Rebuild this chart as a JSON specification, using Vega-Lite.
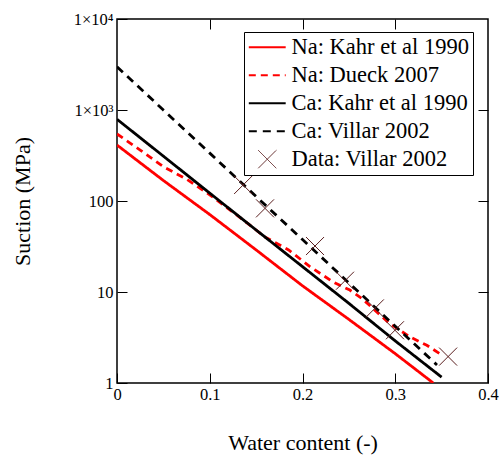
{
  "$schema": "https://vega.github.io/schema/vega-lite/v6.json",
  "width": 371,
  "height": 364,
  "autosize": {"type": "none"},
  "padding": {"left": 117, "top": 19, "right": 14, "bottom": 73},
  "background": "white",
  "config": {
    "font": "Liberation Serif",
    "view": {"stroke": "black", "strokeWidth": 1.5},
    "axis": {
      "grid": false,
      "domain": false,
      "ticks": true,
      "tickColor": "black",
      "tickWidth": 1,
      "tickSize": -10,
      "labelFlush": false,
      "labelOverlap": false,
      "titleFontWeight": "normal",
      "titleColor": "black"
    }
  },
  "datasets": {
    "curves": [
      {"series": "Na: Kahr et al 1990", "w": 0.0, "s": 412},
      {"series": "Na: Kahr et al 1990", "w": 0.05, "s": 168},
      {"series": "Na: Kahr et al 1990", "w": 0.1, "s": 71},
      {"series": "Na: Kahr et al 1990", "w": 0.15, "s": 29},
      {"series": "Na: Kahr et al 1990", "w": 0.2, "s": 11.7},
      {"series": "Na: Kahr et al 1990", "w": 0.25, "s": 5.0},
      {"series": "Na: Kahr et al 1990", "w": 0.3, "s": 2.1},
      {"series": "Na: Kahr et al 1990", "w": 0.341, "s": 1.0},
      {"series": "Na: Dueck 2007", "w": 0.0, "s": 545},
      {"series": "Na: Dueck 2007", "w": 0.025, "s": 363},
      {"series": "Na: Dueck 2007", "w": 0.05, "s": 238},
      {"series": "Na: Dueck 2007", "w": 0.075, "s": 174},
      {"series": "Na: Dueck 2007", "w": 0.1, "s": 117},
      {"series": "Na: Dueck 2007", "w": 0.13, "s": 69},
      {"series": "Na: Dueck 2007", "w": 0.16, "s": 40},
      {"series": "Na: Dueck 2007", "w": 0.185, "s": 29},
      {"series": "Na: Dueck 2007", "w": 0.208, "s": 19},
      {"series": "Na: Dueck 2007", "w": 0.233, "s": 12.9},
      {"series": "Na: Dueck 2007", "w": 0.251, "s": 10.5},
      {"series": "Na: Dueck 2007", "w": 0.264, "s": 8.5},
      {"series": "Na: Dueck 2007", "w": 0.294, "s": 4.5},
      {"series": "Na: Dueck 2007", "w": 0.316, "s": 3.2},
      {"series": "Na: Dueck 2007", "w": 0.334, "s": 2.6},
      {"series": "Na: Dueck 2007", "w": 0.348, "s": 2.1},
      {"series": "Ca: Kahr et al 1990", "w": 0.0, "s": 791},
      {"series": "Ca: Kahr et al 1990", "w": 0.05, "s": 311},
      {"series": "Ca: Kahr et al 1990", "w": 0.1, "s": 122},
      {"series": "Ca: Kahr et al 1990", "w": 0.15, "s": 48},
      {"series": "Ca: Kahr et al 1990", "w": 0.2, "s": 19},
      {"series": "Ca: Kahr et al 1990", "w": 0.25, "s": 7.5},
      {"series": "Ca: Kahr et al 1990", "w": 0.3, "s": 2.9},
      {"series": "Ca: Kahr et al 1990", "w": 0.35, "s": 1.16},
      {"series": "Ca: Villar 2002", "w": 0.0, "s": 2990},
      {"series": "Ca: Villar 2002", "w": 0.05, "s": 1000},
      {"series": "Ca: Villar 2002", "w": 0.1, "s": 336},
      {"series": "Ca: Villar 2002", "w": 0.15, "s": 112},
      {"series": "Ca: Villar 2002", "w": 0.2, "s": 37.7},
      {"series": "Ca: Villar 2002", "w": 0.25, "s": 12.6},
      {"series": "Ca: Villar 2002", "w": 0.3, "s": 4.2},
      {"series": "Ca: Villar 2002", "w": 0.345, "s": 1.58}
    ],
    "villar": [
      {"series": "Data: Villar 2002", "w": 0.136, "s": 150},
      {"series": "Data: Villar 2002", "w": 0.1596, "s": 83},
      {"series": "Data: Villar 2002", "w": 0.2135, "s": 32},
      {"series": "Data: Villar 2002", "w": 0.2458, "s": 13.3},
      {"series": "Data: Villar 2002", "w": 0.278, "s": 6.6},
      {"series": "Data: Villar 2002", "w": 0.2997, "s": 3.8},
      {"series": "Data: Villar 2002", "w": 0.357, "s": 1.95}
    ]
  },
  "layer": [
    {
      "data": {"name": "curves"},
      "mark": {"type": "line", "strokeWidth": 2.8, "clip": true},
      "encoding": {
        "x": {
          "field": "w",
          "type": "quantitative",
          "scale": {"domain": [0, 0.4], "nice": false, "zero": false},
          "axis": {
            "orient": "bottom",
            "values": [0, 0.1, 0.2, 0.3, 0.4],
            "labelExpr": "datum.value == 0 ? '0' : format(datum.value, '.1f')",
            "labelFont": "Liberation Serif",
            "labelFontSize": 16.5,
            "labelColor": "black",
            "labelPadding": 13,
            "title": "Water content (-)",
            "titleFont": "Liberation Serif",
            "titleFontSize": 22,
            "titleBaseline": "middle",
            "titleY": 59
          }
        },
        "y": {
          "field": "s",
          "type": "quantitative",
          "scale": {"type": "log", "domain": [1, 10000], "nice": false},
          "axis": {
            "orient": "left",
            "values": [1, 10, 100, 1000, 10000],
            "labelExpr": "datum.value == 1000 ? '1×10³' : datum.value == 10000 ? '1×10⁴' : format(datum.value, 'd')",
            "labelFont": "Liberation Serif",
            "labelFontSize": 16.5,
            "labelColor": "black",
            "labelPadding": 14,
            "title": "Suction (MPa)",
            "titleFont": "Liberation Serif",
            "titleFontSize": 22,
            "titleBaseline": "middle",
            "titleX": -95,
            "titleY": 182
          }
        },
        "color": {
          "field": "series",
          "type": "nominal",
          "scale": {
            "domain": ["Na: Kahr et al 1990", "Na: Dueck 2007", "Ca: Kahr et al 1990", "Ca: Villar 2002", "Data: Villar 2002"],
            "range": ["#ff0000", "#ff0000", "#000000", "#000000", "#5a1e1e"]
          },
          "legend": {
            "title": null,
            "orient": "none",
            "legendX": 127,
            "legendY": 13,
            "fillColor": "white",
            "strokeColor": "black",
            "padding": 4,
            "labelFont": "Liberation Serif",
            "labelFontSize": 22.5,
            "labelColor": "black",
            "labelLimit": 400,
            "labelOffset": 13,
            "symbolSize": 324,
            "symbolOffset": 8,
            "rowPadding": 5,
            "symbolStrokeWidth": 2,
            "symbolFillColor": "transparent",
            "encode": {
              "symbols": {
                "update": {
                  "shape": {"signal": "datum.value === 'Data: Villar 2002' ? 'M-1,-1L1,1M-1,1L1,-1' : 'M-2.05,0L2.05,0'"},
                  "strokeWidth": {"signal": "datum.value === 'Data: Villar 2002' ? 1 : 2"},
                  "fill": {"value": "transparent"}
                }
              }
            }
          }
        },
        "strokeDash": {
          "field": "series",
          "type": "nominal",
          "scale": {
            "domain": ["Na: Kahr et al 1990", "Na: Dueck 2007", "Ca: Kahr et al 1990", "Ca: Villar 2002", "Data: Villar 2002"],
            "range": [[1, 0], [7, 5], [1, 0], [8, 6], [1, 0]]
          },
          "legend": null
        }
      }
    },
    {
      "data": {"name": "villar"},
      "mark": {"type": "point", "shape": "M-1,-1L1,1M-1,1L1,-1", "filled": false, "size": 324, "strokeWidth": 1, "opacity": 1},
      "encoding": {
        "x": {
          "field": "w",
          "type": "quantitative",
          "axis": {"orient": "top", "values": [0.1, 0.2, 0.3], "labels": false, "title": null}
        },
        "y": {
          "field": "s",
          "type": "quantitative",
          "axis": {"orient": "right", "values": [10, 100, 1000], "labels": false, "title": null}
        },
        "color": {"field": "series", "type": "nominal"}
      }
    }
  ],
  "resolve": {"axis": {"x": "independent", "y": "independent"}}
}
